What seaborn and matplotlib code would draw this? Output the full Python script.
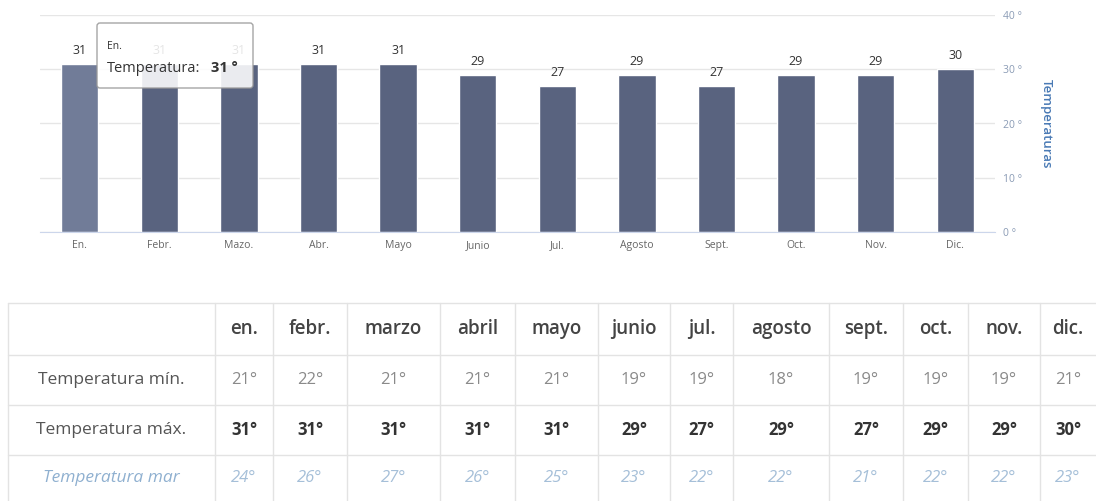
import matplotlib.pyplot as plt
import seaborn as sns
from matplotlib.patches import FancyBboxPatch

# Chart data
months_short = ['En.', 'Febr.', 'Mazo.', 'Abr.', 'Mayo', 'Junio', 'Jul.', 'Agosto', 'Sept.', 'Oct.', 'Nov.', 'Dic.']
temp_max = [31, 31, 31, 31, 31, 29, 27, 29, 27, 29, 29, 30]
y_ticks = [0, 10, 20, 30, 40]

# Table data
months_table = ['en.', 'febr.', 'marzo', 'abril', 'mayo', 'junio', 'jul.', 'agosto', 'sept.', 'oct.', 'nov.', 'dic.']
row_labels = ['Temperatura mín.', 'Temperatura máx.', 'Temperatura mar']
temp_min = [21, 22, 21, 21, 21, 19, 19, 18, 19, 19, 19, 21]
temp_sea = [24, 26, 27, 26, 25, 23, 22, 22, 21, 22, 22, 23]

sns.set_style('white')
plt.rcParams['font.family'] = ['Open Sans', 'DejaVu Sans']

W, H = 1096, 501
fig = plt.figure(figsize=(W / 100, H / 100), dpi=100)

# ---- bar chart ----
ax = fig.add_axes([40 / W, 1 - 232 / H, 955 / W, 217 / H])
bar_colors = ['#717c98'] + ['#59637f'] * (len(months_short) - 1)
sns.barplot(x=months_short, y=temp_max, hue=months_short, palette=bar_colors,
            legend=False, width=0.47, saturation=1, ax=ax)
for c in ax.containers:
    ax.bar_label(c, padding=5, fontsize=9, color='#333333')

ax.set_ylim(0, 40)
ax.set_xlim(-0.5, len(months_short) - 0.5)
ax.yaxis.tick_right()
ax.set_yticks(y_ticks)
ax.set_yticklabels([f'{t} °' for t in y_ticks], fontsize=7.5, color='#8a9bb5')
ax.yaxis.set_label_position('right')
ax.set_ylabel('Temperaturas', rotation=270, fontsize=9.5, color='#4a7ab5',
              weight='semibold', labelpad=22)
ax.grid(axis='y', color='#e6e6e6', linewidth=1)
ax.set_axisbelow(True)
for s in ['top', 'left', 'right']:
    ax.spines[s].set_visible(False)
ax.spines['bottom'].set_color('#ccd6eb')
ax.tick_params(axis='y', length=0, pad=6)
ax.tick_params(axis='x', which='major', length=0, labelsize=7.5, labelcolor='#666666', pad=6)
ax.set_xticks([i + 0.5 for i in range(-1, len(months_short))], minor=True)
ax.tick_params(axis='x', which='minor', length=5, color='#ccd6eb')
ax.set_xlabel('')

# overlay in pixel coordinates for tooltip and table
ov = fig.add_axes([0, 0, 1, 1])
ov.set_xlim(0, W)
ov.set_ylim(H, 0)
ov.axis('off')
ov.add_patch(FancyBboxPatch((97, 23), 156, 65, boxstyle='round,pad=0,rounding_size=3',
                            facecolor='white', edgecolor='#999999', linewidth=1, alpha=0.88))
ov.text(107, 46, months_short[0], fontsize=7.5, color='#333333', va='center')
ov.text(107, 68, 'Temperatura:', fontsize=10.5, color='#333333', va='center')
ov.text(211, 68, f'{temp_max[0]} °', fontsize=10.5, color='#333333', va='center', weight='bold')

# ---- table ----
col_edges = [8, 215, 273, 347, 440, 515, 598, 670, 733, 829, 903, 968, 1040, 1096]
row_edges = [303, 355, 405, 455, 501]
line_c = '#e3e3e3'
for y in row_edges[:-1]:
    ov.plot([col_edges[0], col_edges[-1]], [y, y], color=line_c, lw=1)
for x in col_edges[:-1]:
    ov.plot([x, x], [row_edges[0], row_edges[-1]], color=line_c, lw=1)

centers = [(col_edges[i] + col_edges[i + 1]) / 2 for i in range(len(col_edges) - 1)]
rmid = [(row_edges[i] + row_edges[i + 1]) / 2 for i in range(len(row_edges) - 1)]

for j, m in enumerate(months_table):
    ov.text(centers[j + 1], rmid[0], m, ha='center', va='center', fontsize=13.5,
            weight='semibold', color='#444444')

styles = [
    dict(color='#8a8a8a', weight='normal', style='normal'),
    dict(color='#333333', weight='bold', style='normal'),
    dict(color='#a5bfd8', weight='normal', style='italic'),
]
rows = [temp_min, temp_max, temp_sea]
for r, (lab, vals, st) in enumerate(zip(row_labels, rows, styles)):
    y = rmid[r + 1]
    lab_color = '#555555' if r < 2 else '#8fb0d0'
    ov.text(centers[0], y, lab, ha='center', va='center', fontsize=12.5,
            color=lab_color, style=st['style'])
    for j, v in enumerate(vals):
        ov.text(centers[j + 1], y, f'{v}°', ha='center', va='center', fontsize=12,
                color=st['color'], weight=st['weight'], style=st['style'])

fig.savefig('out.png', dpi=100)
